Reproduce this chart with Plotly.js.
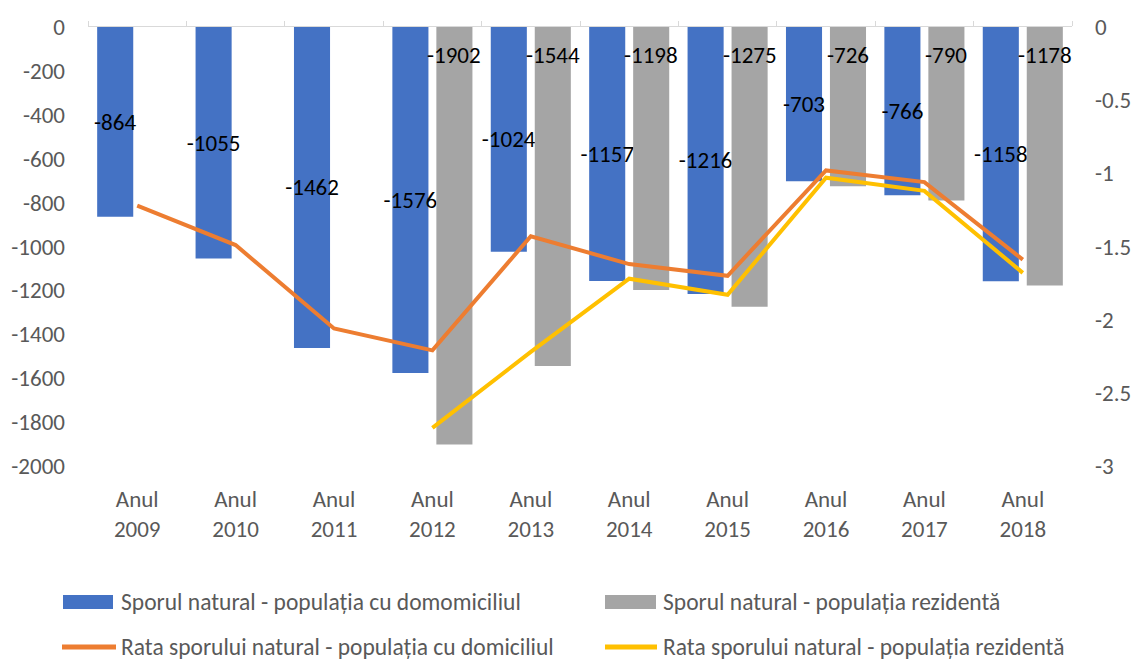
<!DOCTYPE html>
<html><head><meta charset="utf-8">
<script src="https://cdn.plot.ly/plotly-3.0.1.min.js"></script>
<style>html,body{margin:0;padding:0;background:#fff}#chart{width:1133px;height:662px}</style>
</head><body><div id="chart"></div>
<script>
const categories = ['Anul 2009','Anul 2010','Anul 2011','Anul 2012','Anul 2013','Anul 2014','Anul 2015','Anul 2016','Anul 2017','Anul 2018'];
const sporDomiciliu = [-864,-1055,-1462,-1576,-1024,-1157,-1216,-703,-766,-1158];
const sporRezidenta = [null,null,null,-1902,-1544,-1198,-1275,-726,-790,-1178];
const rataDomiciliu = [-1.22,-1.49,-2.06,-2.21,-1.43,-1.62,-1.70,-0.98,-1.06,-1.59];
const rataRezidenta = [null,null,null,-2.74,-2.22,-1.72,-1.83,-1.03,-1.12,-1.68];
const leftTicks = [0,-200,-400,-600,-800,-1000,-1200,-1400,-1600,-1800,-2000];
const rightTicks = [0,-0.5,-1,-1.5,-2,-2.5,-3];
const seriesNames = [
  'Sporul natural - populația cu domomiciliul',
  'Sporul natural - populația rezidentă',
  'Rata sporului natural - populația cu domiciliul',
  'Rata sporului natural - populația rezidentă'
];
const colors = ['#4472C4','#A5A5A5','#ED7D31','#FFC000'];

const FONT = "Carlito, 'Liberation Sans', Arial, sans-serif";
const FS = 23;
const W = 1133, H = 662, L = 88, R = 61, T = 27, B = 196;
const pw = W - L - R, ph = H - T - B;
const px = v => (v - L) / pw;
const py = v => (H - B - v) / ph;

const traces = [
  {type:'bar', name:seriesNames[0], x:categories, y:sporDomiciliu, marker:{color:colors[0]},
   text:sporDomiciliu.map(String), textposition:'inside', insidetextanchor:'middle', constraintext:'none', textangle:0,
   textfont:{family:FONT, size:FS, color:'#000'}, cliponaxis:false, showlegend:false, hoverinfo:'x+y'},
  {type:'bar', name:seriesNames[1], x:categories, y:sporRezidenta, marker:{color:colors[1]},
   showlegend:false, hoverinfo:'x+y'},
  {type:'scatter', mode:'lines', name:seriesNames[2], x:categories, y:rataDomiciliu, yaxis:'y2',
   line:{color:colors[2], width:4}, showlegend:false},
  {type:'scatter', mode:'lines', name:seriesNames[3], x:categories, y:rataRezidenta, yaxis:'y2',
   line:{color:colors[3], width:4}, showlegend:false, connectgaps:false},
  {type:'scatter', mode:'lines', x:categories, y:categories.map(()=>null), xaxis:'x2', showlegend:false, hoverinfo:'skip'}
];

const annotations = [];
sporRezidenta.forEach((v,i)=>{
  if (v === null) return;
  annotations.push({x:categories[i], y:0, xref:'x', yref:'y', text:String(v), showarrow:false,
    xshift:22, yshift:-28, font:{family:FONT, size:FS, color:'#000'}});
});
const legendPos = [[63,113,602,119],[605,656,602,661],[62,116,647,119],[605,657,647,661]];
const shapes = [];
seriesNames.forEach((n,i)=>{
  const p = legendPos[i];
  if (i < 2) {
    shapes.push({type:'rect', xref:'paper', yref:'paper', x0:px(p[0]), x1:px(p[1]), y0:py(p[2]-7), y1:py(p[2]+7),
      fillcolor:colors[i], line:{width:0}});
  } else {
    shapes.push({type:'line', xref:'paper', yref:'paper', x0:px(p[0]), x1:px(p[1]), y0:py(p[2]), y1:py(p[2]),
      line:{color:colors[i], width:5}});
  }
  annotations.push({xref:'paper', yref:'paper', x:px(p[3]), y:py(p[2]), xanchor:'left', yanchor:'middle',
    text:n, showarrow:false, font:{family:FONT, size:23.5, color:'#595959'}});
});

const layout = {
  width:W, height:H, margin:{l:L, r:R, t:T, b:B},
  paper_bgcolor:'#fff', plot_bgcolor:'#fff',
  font:{family:FONT, size:FS, color:'#595959'},
  barmode:'group', bargap:0.106, bargroupgap:0.18,
  showlegend:false,
  xaxis:{type:'category', range:[-0.5,9.5], tickvals:categories, ticktext:categories.map(c=>c.replace(' ','<br>')),
    showline:false, ticks:'', showgrid:false, zeroline:false, ticklabelstandoff:17,
    tickfont:{family:FONT, size:FS, color:'#595959'}},
  xaxis2:{type:'category', overlaying:'x', side:'top', anchor:'y', range:[-0.5,9.5], showline:true, linecolor:'#D9D9D9',
    linewidth:1, ticks:'outside', tickson:'boundaries', ticklen:5, tickcolor:'#D9D9D9', showticklabels:false, showgrid:false},
  yaxis:{range:[-2000,0], tickvals:leftTicks, ticktext:leftTicks.map(String), showgrid:false, zeroline:false, showline:false,
    ticks:'', ticklabelstandoff:22, tickfont:{family:FONT, size:FS, color:'#595959'}},
  yaxis2:{range:[-3,0], overlaying:'y', side:'right', tickvals:rightTicks, ticktext:rightTicks.map(String), showgrid:false,
    zeroline:false, showline:false, ticks:'', ticklabelstandoff:22, tickfont:{family:FONT, size:FS, color:'#595959'}},
  annotations:annotations, shapes:shapes
};
Plotly.newPlot('chart', traces, layout, {displayModeBar:false, staticPlot:true});
</script></body></html>
